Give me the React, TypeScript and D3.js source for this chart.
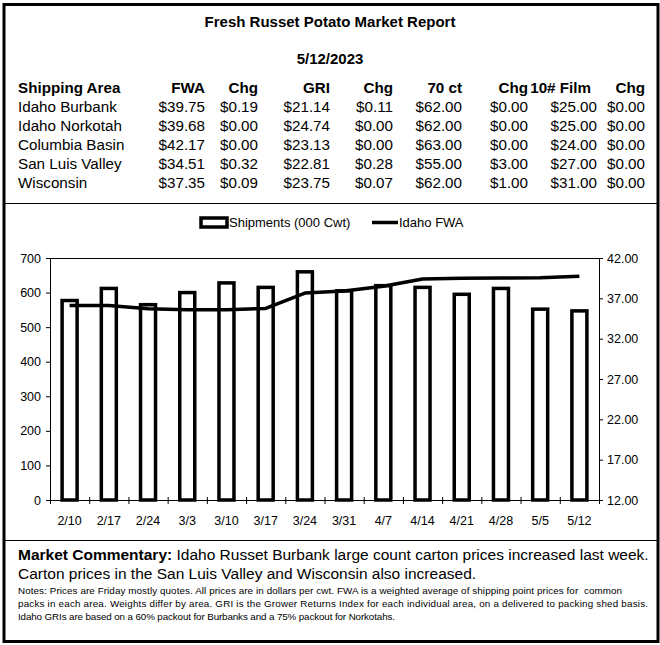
import React from 'react';
import * as d3 from 'd3';

const categories = ['2/10','2/17','2/24','3/3','3/10','3/17','3/24','3/31','4/7','4/14','4/21','4/28','5/5','5/12'];
const shipments = [577, 612, 565, 600, 628, 615, 660, 605, 620, 615, 595, 612, 552, 547];
const idahoFWA = [36.1, 36.1, 35.7, 35.6, 35.6, 35.75, 37.65, 37.9, 38.5, 39.4, 39.5, 39.52, 39.56, 39.75];
const leftTicks = [0, 100, 200, 300, 400, 500, 600, 700];
const rightTicks = [12, 17, 22, 27, 32, 37, 42];

const tableHeaders = ['Shipping Area', 'FWA', 'Chg', 'GRI', 'Chg', '70 ct', 'Chg', '10# Film', 'Chg'];
const areas = ['Idaho Burbank', 'Idaho Norkotah', 'Columbia Basin', 'San Luis Valley', 'Wisconsin'];
const fwa = [39.75, 39.68, 42.17, 34.51, 37.35];
const fwaChg = [0.19, 0.0, 0.0, 0.32, 0.09];
const gri = [21.14, 24.74, 23.13, 22.81, 23.75];
const griChg = [0.11, 0.0, 0.0, 0.28, 0.07];
const ct70 = [62, 62, 63, 55, 62];
const ct70Chg = [0, 0, 0, 3, 1];
const film10 = [25, 25, 24, 27, 31];
const film10Chg = [0, 0, 0, 0, 0];

const notes = [
  'Notes: Prices are Friday mostly quotes. All prices are in dollars per cwt. FWA is a weighted average of shipping point prices for\u00A0 common',
  'packs in each area. Weights differ by area. GRI is the Grower Returns Index for each individual area, on a delivered to packing shed basis.',
  'Idaho GRIs are based on a 60% packout for Burbanks and a 75% packout for Norkotahs.',
];

const FONT = '"Liberation Sans", Arial, Helvetica, sans-serif';

export default function App() {
  const W = 660, H = 645;
  const plot = { left: 50, right: 599, top: 258, bottom: 500 };
  const x = d3.scaleBand<string>().domain(categories).range([plot.left, plot.right]).paddingInner(0).paddingOuter(0);
  const yL = d3.scaleLinear().domain([0, 700]).range([plot.bottom, plot.top]);
  const yR = d3.scaleLinear().domain([12, 42]).range([plot.bottom, plot.top]);
  const bw = x.bandwidth();
  const cx = (c: string) => (x(c) as number) + bw / 2;
  const line = d3.line<number>().x((_, i) => cx(categories[i])).y(d => yR(d)).curve(d3.curveLinear);

  const colRight = [0, 205, 258, 330, 393, 462, 528, 597, 645];
  const headerRight = [0, 205, 258, 330, 393, 462, 528, 591, 645];
  const cols = [fwa, fwaChg, gri, griChg, ct70, ct70Chg, film10, film10Chg];
  const money = (v: number) => '$' + v.toFixed(2);
  const rowY = (i: number) => 112 + i * 19;
  const TF = 15.2;
  const AF = 12.5;
  const noteLengths = [604, 630, 377];

  const boundaries = d3.range(categories.length + 1).map(i => plot.left + i * bw);

  return (
    <svg width={W} height={H} style={{ position: 'absolute', left: 0, top: 0, fontFamily: FONT }}>
      <rect x={0} y={0} width={W} height={H} fill="#fff" />
      {/* Header table */}
      <text x={330} y={27} textAnchor="middle" fontWeight="bold" fontSize={15}>Fresh Russet Potato Market Report</text>
      <text x={330} y={64} textAnchor="middle" fontWeight="bold" fontSize={15}>5/12/2023</text>
      {tableHeaders.map((h, j) => (
        <text key={'h' + j} x={j === 0 ? 18 : headerRight[j]} y={93} textAnchor={j === 0 ? 'start' : 'end'} fontWeight="bold" fontSize={TF}>{h}</text>
      ))}
      {areas.map((a, i) => (
        <g key={'r' + i}>
          <text x={18} y={rowY(i)} fontSize={TF}>{a}</text>
          {cols.map((col, j) => (
            <text key={j} x={colRight[j + 1]} y={rowY(i)} textAnchor="end" fontSize={TF}>{money(col[i])}</text>
          ))}
        </g>
      ))}
      <line x1={4} x2={658} y1={203.5} y2={203.5} stroke="#000" strokeWidth={1} />

      {/* Legend */}
      <rect x={201} y={218} width={26} height={9} fill="#fff" stroke="#000" strokeWidth={3.5} />
      <text x={229} y={227} fontSize={13}>Shipments (000 Cwt)</text>
      <line x1={372} x2={398} y1={222.5} y2={222.5} stroke="#000" strokeWidth={3.5} />
      <text x={399} y={227} fontSize={13}>Idaho FWA</text>

      {/* Plot frame */}
      <line x1={plot.left} x2={plot.right} y1={plot.top + 0.5} y2={plot.top + 0.5} stroke="#000" strokeWidth={1} />
      <line x1={plot.right + 0.5} x2={plot.right + 0.5} y1={plot.top} y2={plot.bottom} stroke="#000" strokeWidth={1} />
      <line x1={plot.left + 0.5} x2={plot.left + 0.5} y1={plot.top} y2={plot.bottom} stroke="#000" strokeWidth={1} />

      {/* Bars */}
      {shipments.map((v, i) => (
        <rect key={'b' + i} x={cx(categories[i]) - 7.5} y={yL(v)} width={15} height={plot.bottom - yL(v)} fill="#fff" stroke="#000" strokeWidth={3.5} />
      ))}

      {/* x axis */}
      <line x1={plot.left} x2={plot.right} y1={plot.bottom + 0.5} y2={plot.bottom + 0.5} stroke="#000" strokeWidth={1} />
      {boundaries.map((b, i) => (
        <line key={'xt' + i} x1={b + 0.5} x2={b + 0.5} y1={plot.bottom - 3} y2={plot.bottom + 4} stroke="#000" strokeWidth={1} />
      ))}
      {categories.map(c => (
        <text key={'xl' + c} x={cx(c)} y={525} textAnchor="middle" fontSize={AF}>{c}</text>
      ))}

      {/* left axis */}
      {leftTicks.map(t => (
        <g key={'lt' + t}>
          <line x1={plot.left - 4} x2={plot.left} y1={yL(t) + 0.5} y2={yL(t) + 0.5} stroke="#000" strokeWidth={1} />
          <text x={41} y={yL(t) + 4.5} textAnchor="end" fontSize={AF}>{t}</text>
        </g>
      ))}
      {/* right axis */}
      {rightTicks.map(t => (
        <g key={'rt' + t}>
          <line x1={plot.right} x2={plot.right + 4} y1={yR(t) + 0.5} y2={yR(t) + 0.5} stroke="#000" strokeWidth={1} />
          <text x={607} y={yR(t) + 4.5} textAnchor="start" fontSize={AF}>{t.toFixed(2)}</text>
        </g>
      ))}

      {/* Line */}
      <path d={line(idahoFWA) || ''} fill="none" stroke="#000" strokeWidth={3.5} strokeLinejoin="round" />

      <line x1={4} x2={658} y1={540.5} y2={540.5} stroke="#000" strokeWidth={1} />

      {/* Commentary */}
      <text x={18} y={560} fontSize={15.5}>
        <tspan fontWeight="bold">Market Commentary:</tspan> Idaho Russet Burbank large count carton prices increased last week.
      </text>
      <text x={18} y={579} fontSize={15.5}>Carton prices in the San Luis Valley and Wisconsin also increased.</text>
      <g fontSize={9.8}>
        {notes.map((n, i) => (
          <text key={'n' + i} x={18} y={594 + i * 13} textLength={noteLengths[i]} lengthAdjust="spacing">{n}</text>
        ))}
      </g>

      {/* Outer frame */}
      <rect x={4} y={4.5} width={654} height={637} fill="none" stroke="#000" strokeWidth={3} />
    </svg>
  );
}
